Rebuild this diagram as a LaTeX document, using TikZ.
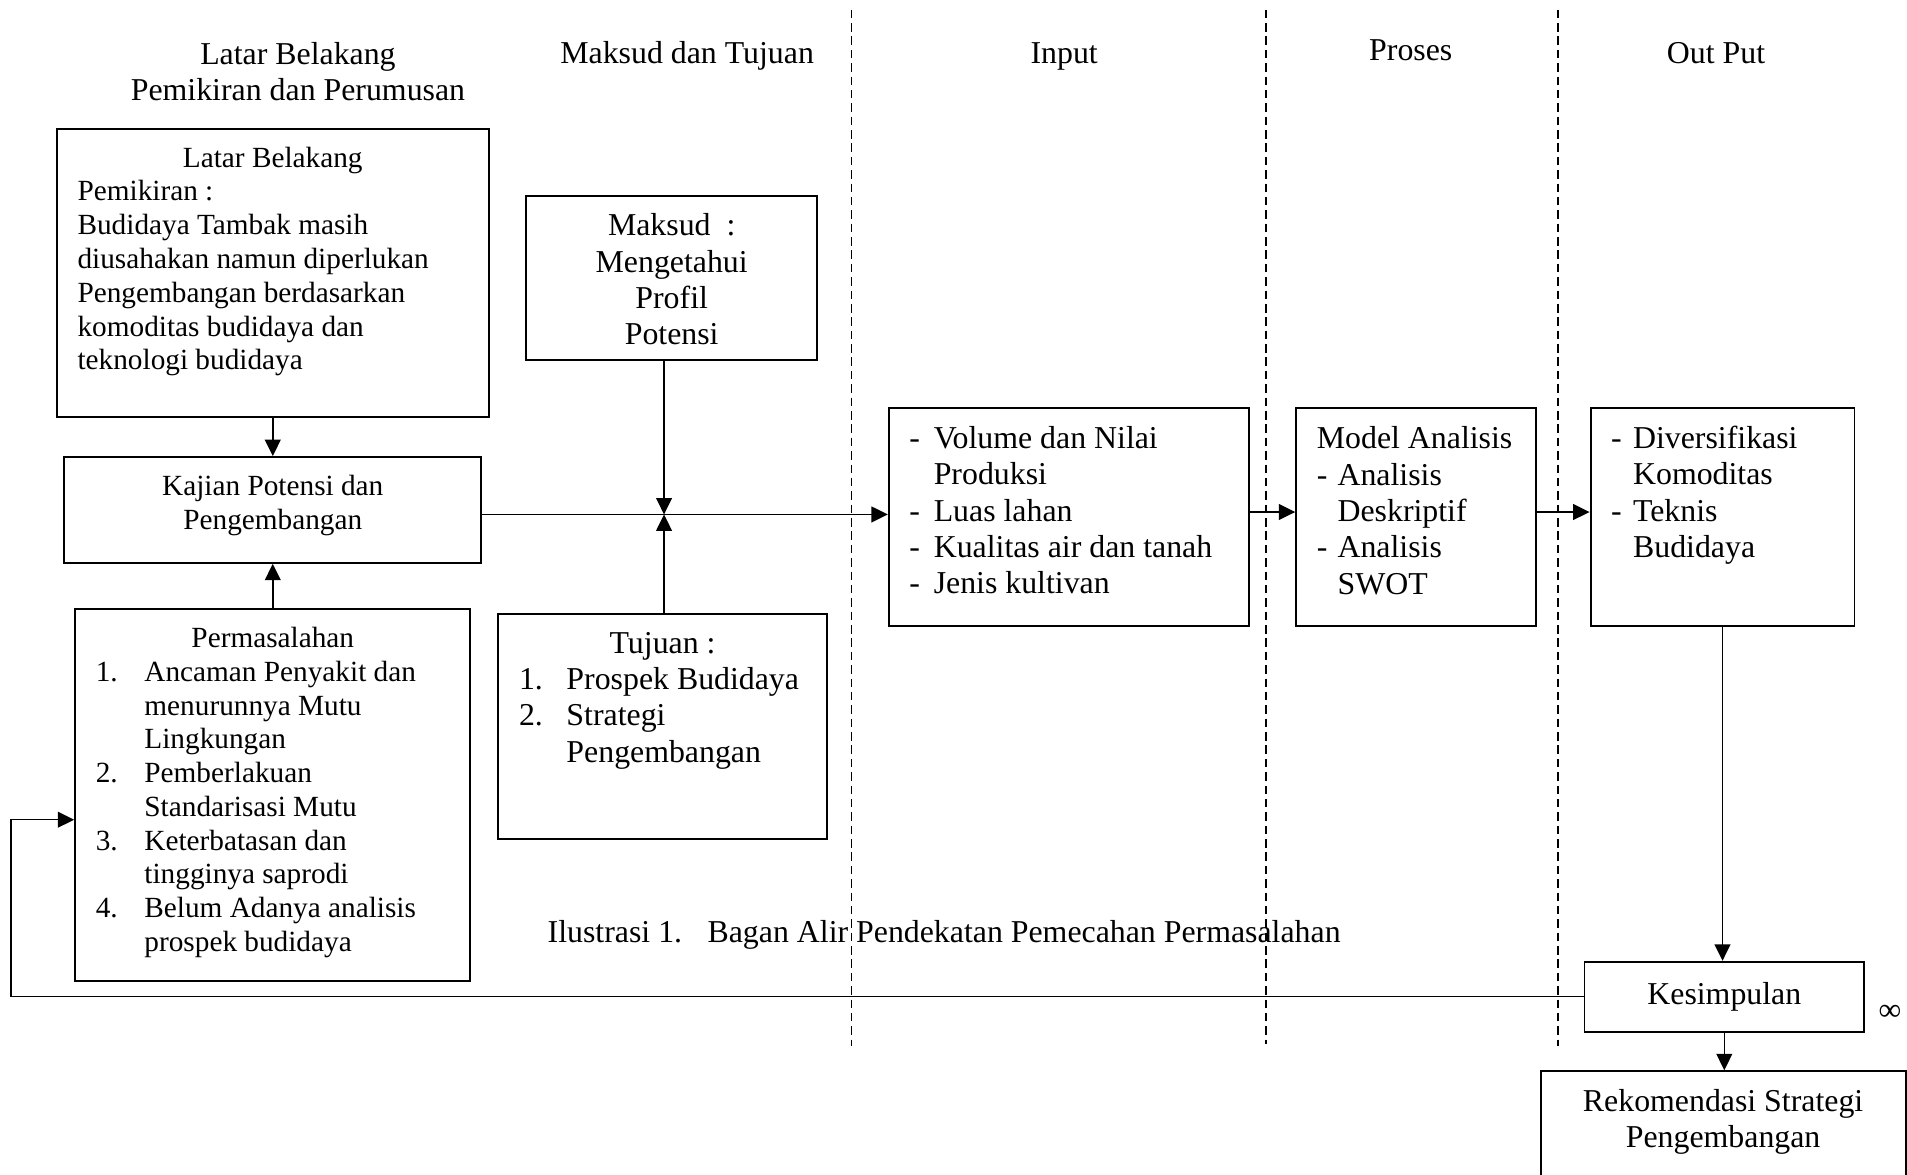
\documentclass[tikz,border=0pt]{standalone}
\usepackage{fontspec}
\setmainfont{Liberation Serif}
\usepackage{tikz}
\usetikzlibrary{arrows.meta,positioning}

\newlength{\pxu}
\setlength{\pxu}{0.02cm}
\newcommand{\lgtxt}{\fontsize{14.9}{17}\selectfont}
\newcommand{\smtxt}{\fontsize{13.7}{15.8}\selectfont}
\newcommand{\panel}[3]{\parbox[c][\dimexpr#2\pxu-30\pxu\relax][t]{\dimexpr#1\pxu-34\pxu\relax}{\raggedright#3}}

\begin{document}
\begin{tikzpicture}[x=0.02cm, y=-0.02cm, font=\lgtxt, >={Triangle[length=0.27cm,width=0.26cm]},
  box/.style={draw, line width=0.9pt, anchor=north west, inner xsep=0.34cm, inner ysep=0.3cm},
  head/.style={anchor=base, align=center, inner sep=0pt},
  link/.style={->, line width=0.72pt},
  lane/.style={line width=0.6pt, dash pattern=on 0.14cm off 0.08cm}]
\useasboundingbox (0,0) rectangle (1568,966);
\clip (0,0) rectangle (1568,966);

\foreach \lx/\ly in {700/860, 1041/858, 1281/860}
  \draw[lane] (\lx,8) -- (\lx,\ly);

\node[anchor=center, align=center, inner sep=0pt] (hlb) at (245,59) {Latar Belakang\\Pemikiran dan Perumusan};
\node[head] (hmt) at (565,52) {Maksud dan Tujuan};
\node[head] (hin) at (875,52) {Input};
\node[head] (hpr) at (1160,50) {Proses};
\node[head] (hout) at (1411,52) {Out Put};

\node[box] (lb) at (46,105) {\smtxt\panel{355}{237}{{\centering Latar Belakang\par}Pemikiran :\\Budidaya Tambak masih\\diusahakan namun diperlukan\\Pengembangan berdasarkan\\komoditas budidaya dan\\teknologi budidaya}};
\node[box] (kaj) at (52,375) {\smtxt\panel{343}{87}{\centering Kajian Potensi dan\\Pengembangan}};
\node[box] (perm) at (61,500) {\smtxt\panel{325}{306}{{\centering Permasalahan\par}%
  \begin{tabular}[t]{@{}p{40\pxu}@{}l@{}}
  1. & Ancaman Penyakit dan\\ & menurunnya Mutu\\ & Lingkungan\\
  2. & Pemberlakuan\\ & Standarisasi Mutu\\
  3. & Keterbatasan dan\\ & tingginya saprodi\\
  4. & Belum Adanya analisis\\ & prospek budidaya
  \end{tabular}}};

\node[box] (maks) at (432,160) {\panel{239}{135}{\centering Maksud\ \ :\\Mengetahui\\Profil\\Potensi}};
\node[box] (tuj) at (409,504) {\panel{270}{185}{{\centering Tujuan :\par}%
  \begin{tabular}[t]{@{}p{39\pxu}@{}l@{}}
  1. & Prospek Budidaya\\
  2. & Strategi\\ & Pengembangan
  \end{tabular}}};

\node[box] (inp) at (730,335) {\panel{296}{179}{\vspace*{-3\pxu}%
  \begin{tabular}[t]{@{}p{20\pxu}@{}l@{}}
  - & Volume dan Nilai\\ & Produksi\\
  - & Luas lahan\\
  - & Kualitas air dan tanah\\
  - & Jenis kultivan
  \end{tabular}}};
\node[box] (pros) at (1065,335) {\panel{197}{179}{Model~Analisis\\%
  \begin{tabular}[t]{@{}p{17\pxu}@{}l@{}}
  - & Analisis\\ & Deskriptif\\
  - & Analisis\\ & SWOT
  \end{tabular}}};
\node[box] (outp) at (1307,335) {\panel{217}{179}{\vspace*{-3\pxu}%
  \begin{tabular}[t]{@{}p{18\pxu}@{}l@{}}
  - & Diversifikasi\\ & Komoditas\\
  - & Teknis\\ & Budidaya
  \end{tabular}}};

\node[box, minimum width=4.6cm, minimum height=1.15cm] (kes) at (1302,790) {Kesimpulan};
\node[box] (rek) at (1266,880) {\panel{300}{130}{\centering Rekomendasi Strategi\\Pengembangan}};
\node (sym) at (1554,833) {∞};

\node[anchor=base west, inner sep=0pt] (cap) at (450,775) {Ilustrasi 1.\hspace{0.8em}Bagan Alir Pendekatan Pemecahan Permasalahan};

\coordinate (jn) at (546,423);
\coordinate (row) at (0,421);
\coordinate (fb) at (9,674);

\draw[link] (lb.south) -- (kaj.north);
\draw[link] (perm.north) -- (kaj.south);
\draw[link] (kaj.east |- jn) -- (inp.west |- jn);
\draw[link] (maks.south -| jn) -- (jn);
\draw[link] (tuj.north -| jn) -- (jn);
\draw[link] (inp.east |- row) -- (pros.west |- row);
\draw[link] (pros.east |- row) -- (outp.west |- row);
\draw[link] (outp.south) -- (outp.south |- kes.north);
\draw[link] (kes.south) -- (kes.south |- rek.north);
\draw[link] (kes.west) -| (fb) -- (perm.west |- fb);
\end{tikzpicture}
\end{document}
